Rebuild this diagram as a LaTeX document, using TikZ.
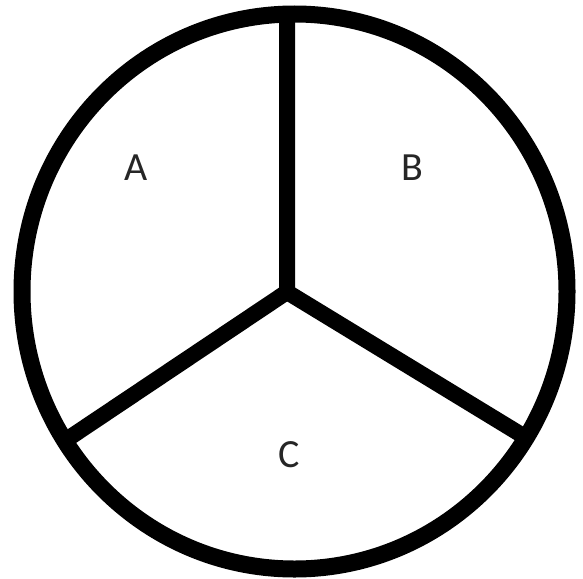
\documentclass[tikz,border=0pt]{standalone}
\usepackage{fontspec}
\usetikzlibrary{shapes.geometric}
\setmainfont{Carlito}
\begin{document}
\begin{tikzpicture}[x=1pt,y=-1pt,
  rim/.style={line width=17pt},
  spoke/.style={line width=16pt},
  lbl/.style={font=\fontsize{40}{40}\selectfont, text=black!85, inner sep=0pt, anchor=center}]
\useasboundingbox (0,0) rectangle (583,578);
\begin{scope}
\clip (0,0) rectangle (583,578);
\node[draw, rim, ellipse, minimum width=545pt, minimum height=555pt, inner sep=0pt] (circ) at (294.5,291.5) {};
\coordinate (O) at (287,292);
\coordinate (T) at (287,14);
\coordinate (L) at (66,440);
\coordinate (R) at (525,437);
\draw[spoke, line join=miter] (T) -- (O) -- (L);
\draw[spoke, line join=miter] (O) -- (R);
\end{scope}
\node[lbl] (A) at (136,168) {A};
\node[lbl] (B) at (412,168) {B};
\node[lbl] (C) at (289,455) {C};
\end{tikzpicture}
\end{document}
